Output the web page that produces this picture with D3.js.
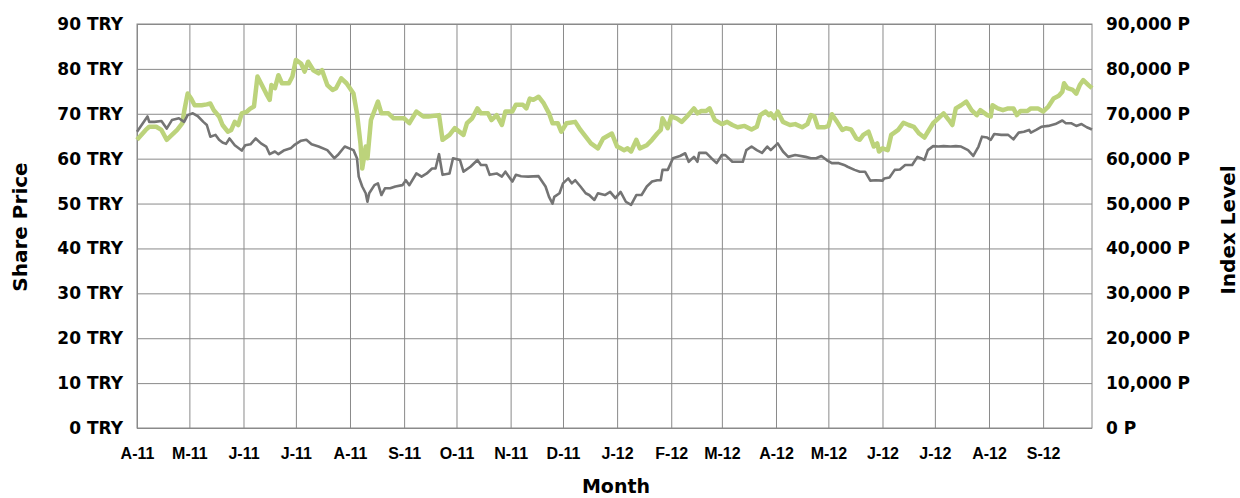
<!DOCTYPE html>
<html>
<head>
<meta charset="utf-8">
<script src="https://cdn.jsdelivr.net/npm/d3@7"></script>
<style>
  body { margin: 0; background: #fff; }
  svg { display: block; }
  .tick line { stroke: #8a8a8a; }
</style>
</head>
<body>
<svg id="chart"></svg>
<script>
// month ticks along the bottom
var monthLabels = ["A-11","M-11","J-11","J-11","A-11","S-11","O-11","N-11","D-11",
                   "J-12","F-12","M-12","A-12","M-12","J-12","J-12","A-12","S-12"];
var priceTicks = [0,10,20,30,40,50,60,70,80,90];
var indexTicks = [0,10000,20000,30000,40000,50000,60000,70000,80000,90000];

// share price (TRY), grey line
var shareData = [
  ["2011-04-01",66.0],["2011-04-07",69.4],["2011-04-08",68.2],["2011-04-11",68.2],["2011-04-15",68.4],
  ["2011-04-18",66.7],["2011-04-21",68.6],["2011-04-25",69.0],["2011-04-28",68.2],["2011-04-30",69.7],
  ["2011-05-03",70.1],["2011-05-06",69.4],["2011-05-09",68.2],["2011-05-11",67.5],["2011-05-13",64.9],
  ["2011-05-16",65.3],["2011-05-18",64.2],["2011-05-20",63.6],["2011-05-22",63.3],["2011-05-24",64.5],
  ["2011-05-27",63.0],["2011-05-31",61.8],["2011-06-02",63.0],["2011-06-05",63.2],["2011-06-08",64.5],
  ["2011-06-11",63.4],["2011-06-14",62.7],["2011-06-16",61.0],["2011-06-19",61.6],["2011-06-21",61.0],
  ["2011-06-24",61.8],["2011-06-28",62.3],["2011-06-30",63.0],["2011-07-04",64.0],["2011-07-07",64.2],
  ["2011-07-10",63.2],["2011-07-14",62.7],["2011-07-19",61.9],["2011-07-23",60.1],["2011-07-25",60.8],
  ["2011-07-29",62.7],["2011-08-03",61.9],["2011-08-05",60.1],["2011-08-06",56.0],["2011-08-08",53.8],
  ["2011-08-10",52.3],["2011-08-11",50.4],["2011-08-12",52.3],["2011-08-15",54.1],["2011-08-17",54.5],
  ["2011-08-19",51.9],["2011-08-21",53.4],["2011-08-24",53.4],["2011-08-27",53.8],["2011-08-31",54.1],
  ["2011-09-02",55.2],["2011-09-04",54.1],["2011-09-08",56.7],["2011-09-11",56.0],["2011-09-14",56.7],
  ["2011-09-17",57.8],["2011-09-19",57.8],["2011-09-21",61.0],["2011-09-23",56.4],["2011-09-27",56.7],
  ["2011-09-29",60.1],["2011-10-03",59.7],["2011-10-05",57.1],["2011-10-09",58.2],["2011-10-13",59.7],
  ["2011-10-15",58.6],["2011-10-18",58.6],["2011-10-20",56.4],["2011-10-24",56.7],["2011-10-27",56.0],
  ["2011-10-29",57.1],["2011-11-02",54.9],["2011-11-04",56.4],["2011-11-07",56.1],["2011-11-11",56.0],
  ["2011-11-17",56.1],["2011-11-21",53.8],["2011-11-23",51.5],["2011-11-25",50.0],["2011-11-26",51.5],
  ["2011-11-29",52.3],["2011-12-01",54.5],["2011-12-04",55.6],["2011-12-06",54.5],["2011-12-08",55.2],
  ["2011-12-11",53.8],["2011-12-14",52.3],["2011-12-16",51.9],["2011-12-19",50.8],["2011-12-21",52.3],
  ["2011-12-25",51.9],["2011-12-28",52.6],["2011-12-31",51.2],["2012-01-03",52.6],["2012-01-06",50.4],
  ["2012-01-09",49.7],["2012-01-12",51.9],["2012-01-15",51.9],["2012-01-18",53.8],["2012-01-21",54.9],
  ["2012-01-24",55.2],["2012-01-26",55.2],["2012-01-27",57.5],["2012-01-30",57.5],["2012-02-02",60.1],
  ["2012-02-06",60.6],["2012-02-09",61.2],["2012-02-11",59.3],["2012-02-14",60.4],["2012-02-16",59.3],
  ["2012-02-17",61.3],["2012-02-21",61.3],["2012-02-24",60.1],["2012-02-27",59.0],["2012-03-01",60.8],
  ["2012-03-03",60.8],["2012-03-07",59.3],["2012-03-09",59.3],["2012-03-13",59.3],["2012-03-15",61.9],
  ["2012-03-18",62.7],["2012-03-21",61.9],["2012-03-24",61.3],["2012-03-27",62.7],["2012-03-29",61.9],
  ["2012-04-02",63.4],["2012-04-05",61.6],["2012-04-08",60.4],["2012-04-12",60.8],["2012-04-18",60.4],
  ["2012-04-21",60.1],["2012-04-24",60.1],["2012-04-27",60.6],["2012-04-30",59.7],["2012-05-03",59.0],
  ["2012-05-07",59.0],["2012-05-10",58.6],["2012-05-12",58.2],["2012-05-16",57.5],["2012-05-19",57.1],
  ["2012-05-22",57.1],["2012-05-25",55.1],["2012-05-28",55.2],["2012-06-01",55.1],["2012-06-02",55.6],
  ["2012-06-05",55.8],["2012-06-08",57.5],["2012-06-11",57.6],["2012-06-14",58.6],["2012-06-18",58.6],
  ["2012-06-21",60.4],["2012-06-23",60.1],["2012-06-25",59.7],["2012-06-27",61.9],["2012-06-30",62.8],
  ["2012-07-03",62.7],["2012-07-06",62.8],["2012-07-10",62.7],["2012-07-13",62.8],["2012-07-16",62.7],
  ["2012-07-20",61.9],["2012-07-23",60.6],["2012-07-26",62.7],["2012-07-28",64.9],["2012-07-31",64.7],
  ["2012-08-02",64.2],["2012-08-04",65.5],["2012-08-08",65.3],["2012-08-12",65.3],["2012-08-15",64.3],
  ["2012-08-18",65.8],["2012-08-21",66.0],["2012-08-24",66.4],["2012-08-25",65.8],["2012-08-28",66.4],
  ["2012-08-31",67.1],["2012-09-04",67.3],["2012-09-08",67.7],["2012-09-12",68.5],["2012-09-14",67.9],
  ["2012-09-17",67.9],["2012-09-20",67.3],["2012-09-23",67.7],["2012-09-26",67.0],["2012-09-29",66.5]
];

// index level (points), green line
var indexData = [
  ["2011-04-01",64200],["2011-04-06",66400],["2011-04-08",67100],["2011-04-12",67100],["2011-04-15",66400],
  ["2011-04-18",64200],["2011-04-21",65300],["2011-04-24",66400],["2011-04-27",67900],["2011-04-28",70500],
  ["2011-04-30",74500],["2011-05-02",73400],["2011-05-04",71900],["2011-05-08",71900],["2011-05-11",72100],
  ["2011-05-13",72300],["2011-05-15",70800],["2011-05-18",69400],["2011-05-20",67500],["2011-05-23",66000],
  ["2011-05-25",66400],["2011-05-27",68200],["2011-05-29",67500],["2011-05-31",70100],["2011-06-03",70500],
  ["2011-06-05",71200],["2011-06-07",71600],["2011-06-09",78300],["2011-06-11",76800],["2011-06-14",74500],
  ["2011-06-16",73100],["2011-06-17",76400],["2011-06-19",75700],["2011-06-21",78600],["2011-06-23",76800],
  ["2011-06-27",76800],["2011-06-29",78300],["2011-07-01",82000],["2011-07-04",81200],["2011-07-06",79400],
  ["2011-07-08",81600],["2011-07-11",79700],["2011-07-14",79000],["2011-07-16",79700],["2011-07-19",76400],
  ["2011-07-22",75300],["2011-07-24",75700],["2011-07-27",77900],["2011-07-30",76800],["2011-08-03",74500],
  ["2011-08-05",70100],["2011-08-07",63400],["2011-08-08",57800],["2011-08-10",62700],["2011-08-11",60100],
  ["2011-08-13",68600],["2011-08-17",72700],["2011-08-19",70100],["2011-08-23",70100],["2011-08-26",69000],
  ["2011-09-01",69000],["2011-09-04",67900],["2011-09-08",70500],["2011-09-12",69400],["2011-09-15",69400],
  ["2011-09-21",69700],["2011-09-23",64200],["2011-09-27",65300],["2011-09-30",66800],["2011-10-05",65300],
  ["2011-10-07",67900],["2011-10-10",69000],["2011-10-13",71200],["2011-10-15",70100],["2011-10-19",70100],
  ["2011-10-21",68600],["2011-10-24",69700],["2011-10-27",67500],["2011-10-29",70500],["2011-11-02",70500],
  ["2011-11-04",72000],["2011-11-08",72000],["2011-11-10",71200],["2011-11-12",73400],["2011-11-14",73100],
  ["2011-11-17",73800],["2011-11-20",72300],["2011-11-23",70100],["2011-11-25",67900],["2011-11-28",67900],
  ["2011-11-30",66000],["2011-12-03",67900],["2011-12-08",68200],["2011-12-11",66400],["2011-12-14",64900],
  ["2011-12-17",63400],["2011-12-21",62300],["2011-12-24",64500],["2011-12-29",65600],["2012-01-01",62700],
  ["2012-01-03",62300],["2012-01-05",61900],["2012-01-07",62300],["2012-01-09",61600],["2012-01-12",64200],
  ["2012-01-14",62300],["2012-01-18",63000],["2012-01-21",64200],["2012-01-24",65600],["2012-01-26",66400],
  ["2012-01-27",69000],["2012-01-30",66800],["2012-02-01",69400],["2012-02-04",69000],["2012-02-07",68200],
  ["2012-02-10",69400],["2012-02-14",71200],["2012-02-16",70100],["2012-02-18",70600],["2012-02-21",70600],
  ["2012-02-23",71200],["2012-02-26",68600],["2012-03-01",67700],["2012-03-04",68200],["2012-03-07",67500],
  ["2012-03-10",67000],["2012-03-14",67300],["2012-03-18",66500],["2012-03-21",67100],["2012-03-23",69700],
  ["2012-03-26",70500],["2012-03-28",69700],["2012-03-29",70100],["2012-03-31",69000],["2012-04-02",70500],
  ["2012-04-05",68200],["2012-04-09",67500],["2012-04-12",67700],["2012-04-16",67000],["2012-04-19",67700],
  ["2012-04-21",69700],["2012-04-23",69400],["2012-04-25",67000],["2012-04-29",67000],["2012-05-01",67300],
  ["2012-05-03",69900],["2012-05-06",68200],["2012-05-09",66400],["2012-05-11",66800],["2012-05-14",66500],
  ["2012-05-17",64500],["2012-05-19",64200],["2012-05-21",65300],["2012-05-24",66000],["2012-05-27",62700],
  ["2012-05-29",63400],["2012-05-30",61600],["2012-06-01",62300],["2012-06-04",61900],["2012-06-06",65300],
  ["2012-06-10",66400],["2012-06-13",68000],["2012-06-16",67500],["2012-06-19",67100],["2012-06-22",65600],
  ["2012-06-25",64700],["2012-06-27",66000],["2012-06-30",67900],["2012-07-03",69000],["2012-07-06",70100],
  ["2012-07-09",68600],["2012-07-11",67500],["2012-07-13",71200],["2012-07-16",71900],["2012-07-19",72700],
  ["2012-07-22",70800],["2012-07-25",69700],["2012-07-27",70800],["2012-07-31",69700],["2012-08-02",69400],
  ["2012-08-03",71900],["2012-08-06",71200],["2012-08-09",70800],["2012-08-12",71200],["2012-08-15",71200],
  ["2012-08-17",69700],["2012-08-19",70600],["2012-08-23",70600],["2012-08-25",71200],["2012-08-29",71200],
  ["2012-09-01",70500],["2012-09-04",71600],["2012-09-07",73400],["2012-09-10",74000],["2012-09-12",74900],
  ["2012-09-13",76800],["2012-09-15",75700],["2012-09-18",75300],["2012-09-20",74500],["2012-09-22",76400],
  ["2012-09-24",77500],["2012-09-27",76400],["2012-09-29",75700]
];

var W = 1240, H = 498;
var margin = {top: 24, right: 148, bottom: 70, left: 137};
var width = W - margin.left - margin.right;
var height = H - margin.top - margin.bottom;

var parse = d3.timeParse("%Y-%m-%d");
var startDate = parse("2011-04-01"), endDate = parse("2012-09-29");
var tickDates = d3.timeMonth.range(startDate, endDate);

var svg = d3.select("#chart").attr("width", W).attr("height", H);
var g = svg.append("g").attr("transform", "translate(" + margin.left + "," + margin.top + ")");

var x = d3.scaleTime().domain([startDate, endDate]).range([0, width]);
var yL = d3.scaleLinear().domain([0, 90]).range([height, 0]);
var yR = d3.scaleLinear().domain([0, 90000]).range([height, 0]);

var boldFont = "DejaVu Sans, Verdana, sans-serif";

// horizontal grid + left labels
var leftAxis = g.append("g")
  .call(d3.axisLeft(yL).tickValues(priceTicks).tickSize(-width).tickPadding(14)
        .tickFormat(d => d + " TRY"));
leftAxis.select(".domain").remove();
leftAxis.selectAll("text").attr("font-family", boldFont).attr("font-weight", "bold")
  .attr("font-size", 17).attr("fill", "#000");

// vertical grid + month labels
var bottomAxis = g.append("g").attr("transform", "translate(0," + height + ")")
  .call(d3.axisBottom(x).tickValues(tickDates).tickSize(-height).tickPadding(20)
        .tickFormat((d, i) => monthLabels[i]));
bottomAxis.select(".domain").remove();
bottomAxis.selectAll("text").attr("font-family", "Liberation Sans, Arial, sans-serif")
  .attr("font-weight", "bold").attr("font-size", 16).attr("fill", "#000");

// right labels
var rightAxis = g.append("g").attr("transform", "translate(" + width + ",0)")
  .call(d3.axisRight(yR).tickValues(indexTicks).tickSize(0).tickPadding(14)
        .tickFormat(d => d3.format(",")(d) + " P"));
rightAxis.select(".domain").remove();
rightAxis.selectAll("text").attr("font-family", boldFont).attr("font-weight", "bold")
  .attr("font-size", 17).attr("fill", "#000");

g.append("rect").attr("width", width).attr("height", height)
  .attr("fill", "none").attr("stroke", "#8a8a8a");

var shareLine = d3.line().x(d => x(parse(d[0]))).y(d => yL(d[1]));
var indexLine = d3.line().x(d => x(parse(d[0]))).y(d => yR(d[1]));

g.append("path").datum(indexData).attr("d", indexLine)
  .attr("fill", "none").attr("stroke", "#bcd37b").attr("stroke-width", 4.5)
  .attr("stroke-linejoin", "round");
g.append("path").datum(shareData).attr("d", shareLine)
  .attr("fill", "none").attr("stroke", "#747474").attr("stroke-width", 2.6)
  .attr("stroke-linejoin", "round");

// axis titles
svg.append("text").attr("transform", "translate(27,227) rotate(-90)")
  .attr("text-anchor", "middle").attr("font-family", boldFont).attr("font-weight", "bold")
  .attr("font-size", 20).text("Share Price");
svg.append("text").attr("transform", "translate(1235,230) rotate(-90)")
  .attr("text-anchor", "middle").attr("font-family", boldFont).attr("font-weight", "bold")
  .attr("font-size", 20).text("Index Level");
svg.append("text").attr("x", 616).attr("y", 493)
  .attr("text-anchor", "middle").attr("font-family", boldFont).attr("font-weight", "bold")
  .attr("font-size", 19).text("Month");
</script>
</body>
</html>
